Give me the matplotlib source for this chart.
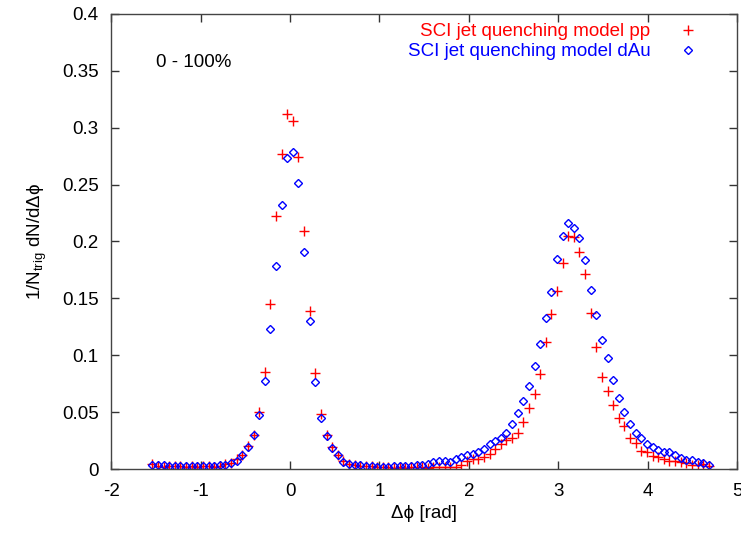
import numpy as np
import matplotlib
matplotlib.use("Agg")
import matplotlib.pyplot as plt

plt.rcParams['font.family'] = ['Liberation Sans', 'DejaVu Sans']
plt.rcParams['mathtext.fontset'] = 'custom'
plt.rcParams['mathtext.rm'] = 'Liberation Sans'
plt.rcParams['mathtext.it'] = 'Liberation Sans:italic'

# 100 bins of delta-phi from -pi/2 to 3pi/2 (bin centres)
n_bins = 100
dphi = -np.pi / 2 + (np.arange(n_bins) + 0.5) * (2 * np.pi / n_bins)

pp = [
    0.0045, 0.0030, 0.0022, 0.0030, 0.0025, 0.0030, 0.0020, 0.0028, 0.0020, 0.0030,
    0.0025, 0.0020, 0.0030, 0.0040, 0.0055, 0.0090, 0.0120, 0.0205, 0.0296, 0.0500,
    0.0850, 0.1450, 0.2224, 0.2770, 0.3120, 0.3056, 0.2740, 0.2090, 0.1390, 0.0840,
    0.0480, 0.0300, 0.0196, 0.0120, 0.0070, 0.0045, 0.0035, 0.0030, 0.0028, 0.0025,
    0.0020, 0.0015, 0.0018, 0.0013, 0.0020, 0.0012, 0.0018, 0.0015, 0.0020, 0.0012,
    0.0015, 0.0020, 0.0015, 0.0020, 0.0022, 0.0035, 0.0068, 0.0086, 0.0092, 0.0103,
    0.0130, 0.0177, 0.0222, 0.0255, 0.0273, 0.0320, 0.0413, 0.0539, 0.0656, 0.0835,
    0.1114, 0.1360, 0.1565, 0.1808, 0.2045, 0.2038, 0.1910, 0.1712, 0.1374, 0.1075,
    0.0806, 0.0683, 0.0564, 0.0447, 0.0375, 0.0272, 0.0228, 0.0158, 0.0153, 0.0115,
    0.0106, 0.0085, 0.0073, 0.0068, 0.0060, 0.0050, 0.0035, 0.0033, 0.0040, 0.0030,
]

dau = [
    0.0038, 0.0035, 0.0034, 0.0030, 0.0028, 0.0027, 0.0027, 0.0026, 0.0026, 0.0027,
    0.0026, 0.0028, 0.0033, 0.0038, 0.0050, 0.0075, 0.0125, 0.0196, 0.0300, 0.0475,
    0.0777, 0.1230, 0.1780, 0.2324, 0.2730, 0.2784, 0.2517, 0.1910, 0.1300, 0.0768,
    0.0450, 0.0290, 0.0188, 0.0120, 0.0062, 0.0045, 0.0036, 0.0033, 0.0030, 0.0025,
    0.0022, 0.0022, 0.0022, 0.0023, 0.0025, 0.0025, 0.0030, 0.0033, 0.0035, 0.0044,
    0.0064, 0.0070, 0.0070, 0.0066, 0.0088, 0.0108, 0.0120, 0.0129, 0.0150, 0.0178,
    0.0223, 0.0249, 0.0270, 0.0320, 0.0395, 0.0495, 0.0598, 0.0730, 0.0908, 0.1096,
    0.1325, 0.1555, 0.1850, 0.2048, 0.2163, 0.2122, 0.2028, 0.1837, 0.1570, 0.1354,
    0.1134, 0.0973, 0.0780, 0.0627, 0.0498, 0.0396, 0.0316, 0.0277, 0.0222, 0.0193,
    0.0164, 0.0152, 0.0148, 0.0120, 0.0101, 0.0082, 0.0079, 0.0064, 0.0055, 0.0033,
]

x_ticks = [-2, -1, 0, 1, 2, 3, 4, 5]
y_ticks = [0, 0.05, 0.1, 0.15, 0.2, 0.25, 0.3, 0.35, 0.4]
y_tick_labels = ['0', '0.05', '0.1', '0.15', '0.2', '0.25', '0.3', '0.35', '0.4']
label_pp = 'SCI jet quenching model pp'
label_dau = 'SCI jet quenching model dAu'
centrality = '0 - 100%'

RED = '#ff0000'
BLUE = '#0000ff'
FS = 13.5

fig = plt.figure(figsize=(7.41, 5.33), dpi=100)
ax = fig.add_axes([0.150, 0.120, 0.845, 0.854])

ax.plot(dphi, pp, linestyle='none', marker='+', ms=7, mew=1.0, color=RED)
ax.plot(dphi, dau, linestyle='none', marker='D', ms=4.2, mew=1.0,
        markerfacecolor='none', markeredgecolor=BLUE)

ax.set_xlim(-2, 5)
ax.set_ylim(0, 0.4)
ax.set_xticks(x_ticks)
ax.set_xticklabels([str(t) for t in x_ticks])
ax.set_yticks(y_ticks)
ax.set_yticklabels(y_tick_labels)
ax.tick_params(direction='in', top=True, right=True, length=6, width=1,
               color='#333333', labelsize=FS, labelcolor='black')
ax.tick_params(axis='x', pad=10)
ax.tick_params(axis='y', pad=9)
for s in ax.spines.values():
    s.set_color('#444444')
    s.set_linewidth(1.0)

ax.set_xlabel('Δϕ [rad]', fontsize=FS, labelpad=4)
ax.set_ylabel(r'1/N$_{\mathrm{trig}}$ dN/dΔϕ', fontsize=FS, labelpad=9)

ax.text(0.072, 0.894, centrality, transform=ax.transAxes, fontsize=FS,
        ha='left', va='center')

# key (gnuplot-style: right-aligned coloured text, sample to the right)
ax.text(0.861, 0.962, label_pp, transform=ax.transAxes, fontsize=FS,
        ha='right', va='center', color=RED)
ax.text(0.861, 0.918, label_dau, transform=ax.transAxes, fontsize=FS,
        ha='right', va='center', color=BLUE)
ax.plot([0.922], [0.965], transform=ax.transAxes, linestyle='none',
        marker='+', ms=7, mew=1.0, color=RED, clip_on=False)
ax.plot([0.922], [0.921], transform=ax.transAxes, linestyle='none',
        marker='D', ms=4.2, mew=1.0, markerfacecolor='none',
        markeredgecolor=BLUE, clip_on=False)

fig.savefig('out.png', dpi=100)
